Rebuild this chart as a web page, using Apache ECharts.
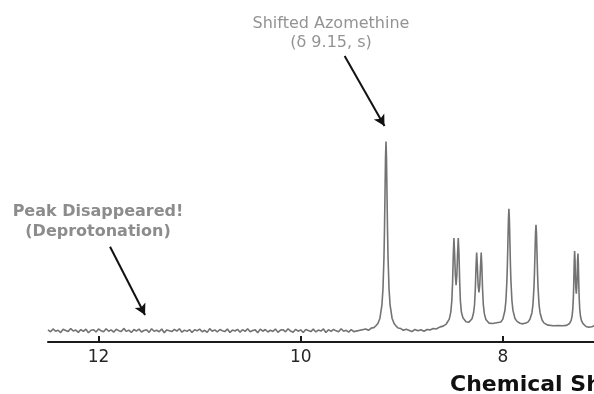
<!DOCTYPE html>
<html>
<head>
<meta charset="utf-8">
<script src="https://cdn.jsdelivr.net/npm/echarts@6/dist/echarts.min.js"></script>
<style>
  html, body { margin: 0; padding: 0; background: #ffffff; }
  #chart { width: 594px; height: 394px; }
</style>
</head>
<body>
<div id="chart"></div>
<script>
// ---- data ----
// noisy baseline, sampled every 0.025 ppm from 12.5 ppm
var noiseStart = 12.5;
var noiseStep = 0.025;
var noiseValues = [
  0.4,-0.6,0.9,-0.3,0.2,-1.0,0.7,0.1,-0.5,1.1,-0.2,0.3,-0.9,0.6,-0.4,0.8,-1.1,0.2,0.5,-0.7,
  0.9,-0.1,-0.6,1.0,-0.3,0.4,-0.8,0.7,0.0,-0.5,1.2,-0.4,0.3,-1.0,0.6,-0.2,0.8,-0.7,0.1,0.5,
  -0.9,1.0,-0.3,0.2,-0.6,0.9,-1.1,0.4,0.0,-0.5,0.7,-0.2,1.0,-0.8,0.3,-0.4,0.6,-1.0,0.5,-0.1,
  0.8,-0.6,0.2,-0.9,1.1,-0.3,0.4,-0.7,0.6,0.0,-0.5,0.9,-1.0,0.3,-0.2,0.7,-0.8,0.5,-0.4,1.0,
  -0.6,0.1,0.4,-1.1,0.8,-0.3,0.6,-0.7,0.2,-0.4,0.9,-0.9,0.3,0.5,-0.6,1.0,-0.2,-0.8,0.7,-0.3,
  0.4,-1.0,0.6,0.1,-0.5,0.8,-0.7,0.3,-0.2,0.9,-1.0,0.5,-0.4,0.7,-0.1,-0.6,1.0,-0.3,0.2,-0.8,
  0.6,-0.5
];
// signal region (ppm, intensity)
var peakShifts = [
  9.356,9.33,9.30,9.276,9.256,9.236,9.216,9.196,9.186,9.176,9.171,9.166,9.161,9.156,9.151,9.146,9.141,9.136,9.126,9.116,9.096,9.076,9.056,9.036,9.01,8.985,8.956,
  8.93,8.90,8.87,8.84,8.81,8.78,8.75,8.72,8.69,8.66,
  8.62,8.59,8.56,8.53,8.515,8.505,8.497,8.49,8.484,8.477,8.47,8.4625,8.455,8.448,8.441,8.434,8.427,8.42,8.41,8.395,8.365,8.335,
  8.305,8.29,8.28,8.272,8.265,8.259,8.252,8.245,8.2365,8.228,8.221,8.214,8.208,8.201,8.193,8.183,8.168,8.138,8.10,8.06,
  8.02,8.00,7.98,7.97,7.96,7.955,7.95,7.945,7.94,7.935,7.93,7.925,7.92,7.91,7.90,7.88,7.86,7.83,7.81,
  7.792,7.772,7.752,7.732,7.712,7.702,7.692,7.687,7.682,7.677,7.672,7.667,7.662,7.657,7.652,7.642,7.632,7.612,7.592,7.552,7.50,7.45,
  7.41,7.37,7.34,7.325,7.315,7.308,7.302,7.298,7.294,7.29,7.286,7.282,7.278,7.2735,7.269,7.265,7.261,7.257,7.253,7.249,7.245,7.239,7.232,7.222,7.207,7.177,7.15,
  7.12,7.10,7.08,7.06,7.045,7.035,7.028,7.02,7.012,7.005,6.99,6.97,6.94,6.90,6.85,6.80
];
var peakIntensities = [
  0.9,0.2,1.4,1.6,2.6,3.8,6.6,13.8,22.1,39,53.2,71.9,91.1,100,91.1,71.9,53.2,39,22.1,13.8,6.6,3.8,2.4,1.4,1.1,0.2,0.8,
  0.2,-0.5,0.6,-0.1,0.5,-0.3,0.6,0.4,1.1,0.9,
  2.0,2.4,3.5,6.1,9.8,15.7,25.8,40.5,49,40.5,29.3,24,29.3,40.5,49,40.5,25.8,15.7,9.8,6.8,4.7,4.5,
  6.3,9.3,13.7,22.3,34.5,41.3,34.1,24.4,20.2,24.4,34.1,41.3,34.5,22.3,13.7,9.0,5.9,4.0,3.8,4.2,
  4.6,6.1,10.5,15.7,26.2,35,46.6,58.5,64.4,58.5,46.6,35,26.3,15.8,10.7,6.4,4.9,3.9,3.6,
  3.7,4.0,4.5,6.0,9.5,13.9,23.1,30.7,40.8,51.2,56,51.2,40.8,30.7,23.1,13.9,9.5,5.6,4.0,2.9,2.6,2.7,
  2.6,2.8,3.8,5.3,7.7,11.4,18,25.8,36.3,42.1,37.6,28.6,22.7,19.5,22.4,28.1,36.8,40.8,35.4,25.3,17.7,11.2,7.6,5.3,3.7,2.2,1.8,
  2.1,2.5,3.4,5.8,10.5,18,28,40,28,18,9,5,3,2,1.5,1.2
];
var axisMin = 6, axisMax = 12.5, tickMax = 12;
var axisTitle = 'Chemical Shift (ppm)';
// annotations: [ppm, intensity] of arrow tail and head
var arrowAzoFrom = [9.565, 145.2];
var arrowAzoTo = [9.171, 108.2];
var arrowNHFrom = [11.886, 44.4];
var arrowNHTo = [11.54, 8.3];

// ---- build series data ----
var spectrum = [];
for (var i = 0; i < noiseValues.length; i++) {
  spectrum.push([+(noiseStart - i * noiseStep).toFixed(4), noiseValues[i]]);
}
for (var j = 0; j < peakShifts.length; j++) {
  spectrum.push([peakShifts[j], peakIntensities[j]]);
}

// plot area geometry; the tick grid starts where 12 ppm falls on the full axis
var plotLeft = 48, plotWidth = 657;
var tickLeft = plotLeft + (axisMax - tickMax) / (axisMax - axisMin) * plotWidth;
var tickWidth = plotWidth * (tickMax - axisMin) / (axisMax - axisMin);

var chart = echarts.init(document.getElementById('chart'), null, { renderer: 'canvas' });
var option = {
  animation: false,
  backgroundColor: '#ffffff',
  grid: [
    { left: plotLeft, top: 47, width: plotWidth, height: 295, outerBoundsMode: 'none' },
    { left: tickLeft, top: 47, width: tickWidth, height: 295, outerBoundsMode: 'none' }
  ],
  xAxis: [
    {
      type: 'value', gridIndex: 0, inverse: true, min: axisMin, max: axisMax,
      splitLine: { show: false },
      axisLine: { show: true, onZero: false, lineStyle: { color: '#1a1a1a', width: 2 } },
      axisTick: { show: false },
      axisLabel: { show: false }
    },
    {
      type: 'value', gridIndex: 1, inverse: true, min: axisMin, max: tickMax, interval: 2,
      splitLine: { show: false },
      axisLine: { show: false, onZero: false },
      axisTick: { show: true, inside: true, length: 6, lineStyle: { color: '#1a1a1a', width: 2 } },
      axisLabel: { show: true, margin: 7, color: '#262626', fontSize: 17, fontFamily: 'DejaVu Sans' }
    }
  ],
  yAxis: [
    { type: 'value', gridIndex: 0, min: -6, max: 150, show: false },
    { type: 'value', gridIndex: 1, min: -6, max: 150, show: false }
  ],
  series: [{
    type: 'line',
    xAxisIndex: 0,
    yAxisIndex: 0,
    data: spectrum,
    showSymbol: false,
    symbol: 'none',
    sampling: null,
    smooth: false,
    lineStyle: { color: '#737373', width: 1.6 },
    markLine: {
      silent: true,
      symbol: ['none', 'arrow'],
      symbolSize: [9, 11],
      label: { show: false },
      lineStyle: { color: '#111111', width: 2, type: 'solid' },
      data: [
        [{ coord: arrowAzoFrom }, { coord: arrowAzoTo }],
        [{ coord: arrowNHFrom }, { coord: arrowNHTo }]
      ]
    }
  }],
  graphic: [
    {
      type: 'text', x: 331, y: 14,
      style: {
        text: 'Shifted Azomethine\n(δ 9.15, s)',
        fill: '#939393', font: '16px "DejaVu Sans"', lineHeight: 19,
        align: 'center', verticalAlign: 'top'
      }
    },
    {
      type: 'text', x: 98, y: 202,
      style: {
        text: 'Peak Disappeared!\n(Deprotonation)',
        fill: '#8c8c8c', font: 'bold 16px "DejaVu Sans"', lineHeight: 20,
        align: 'center', verticalAlign: 'top'
      }
    },
    {
      type: 'text', x: 450, y: 374,
      style: {
        text: axisTitle,
        fill: '#111111', font: 'bold 22px "DejaVu Sans"',
        align: 'left', verticalAlign: 'top'
      }
    }
  ]
};
chart.setOption(option);
</script>
</body>
</html>
